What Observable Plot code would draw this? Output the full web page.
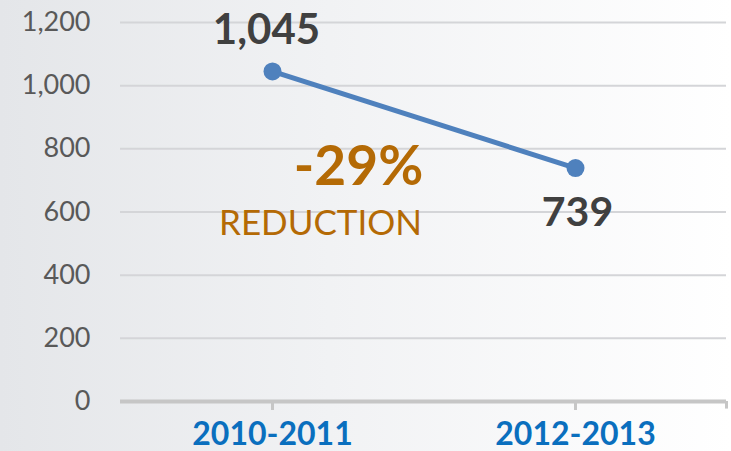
<!DOCTYPE html>
<html>
<head>
<meta charset="utf-8">
<script src="https://cdn.jsdelivr.net/npm/d3@7"></script>
<script src="https://cdn.jsdelivr.net/npm/@observablehq/plot@0.6"></script>
<style>
  html, body { margin: 0; padding: 0; }
  body { width: 731px; height: 451px; overflow: hidden;
         background: linear-gradient(to right, #e4e6e9 0%, #f1f2f4 45%, #ffffff 100%); }
  #chart svg { display: block; background: transparent; }
</style>
</head>
<body>
<div id="chart"></div>
<script>
const periods = ["2010-2011", "2012-2013"];
const incidents = [1045, 739];
const yTicks = [0, 200, 400, 600, 800, 1000, 1200];
const changeLabel = "-29%";
const changeWord = "REDUCTION";

const data = periods.map((p, i) => ({period: p, value: incidents[i]}));
const font = "Lato, 'Open Sans', sans-serif";

const chart = Plot.plot({
  width: 731,
  height: 451,
  marginLeft: 120,
  marginRight: 5,
  marginTop: 22,
  marginBottom: 50,
  style: {fontFamily: font, background: "transparent", overflow: "visible"},
  x: {type: "point", domain: periods, padding: 0.5, label: null},
  y: {domain: [0, 1200], label: null},
  marks: [
    Plot.gridY(yTicks.filter(d => d > 0), {stroke: "#d4d5d8", strokeOpacity: 1, strokeWidth: 2}),
    Plot.ruleY([0], {stroke: "#c6c6c6", strokeWidth: 4}),
    Plot.ruleX([periods[1]], {y1: 0, y2: -24, dx: 151, stroke: "#c6c6c6", strokeWidth: 3}),
    Plot.axisY({ticks: yTicks, tickSize: 0, tickPadding: 30, tickFormat: d3.format(","),
                fontSize: 27, fill: "#595959", label: null}),
    Plot.axisX({tickSize: 9, tickPadding: 12, stroke: "#c6c6c6", strokeWidth: 3,
                fontSize: 32, fontWeight: "bold", fill: "#0a6fbe", label: null}),
    Plot.line(data, {x: "period", y: "value", stroke: "#4f81bd", strokeWidth: 5}),
    Plot.dot(data, {x: "period", y: "value", r: 9, fill: "#4f81bd"}),
    Plot.text([data[0]], {x: "period", y: "value", text: d => d3.format(",")(d.value),
               dy: -41, dx: -6, fontSize: 42, fontWeight: "bold", fill: "#404040"}),
    Plot.text([data[1]], {x: "period", y: "value", text: d => d3.format(",")(d.value),
               dy: 45, dx: 2, fontSize: 41, fontWeight: "bold", fill: "#404040"}),
    Plot.text([data[0]], {x: "period", y: () => 740, text: () => changeLabel,
               dx: 86, fontSize: 55, fontWeight: "bold", fill: "#b46a05"}),
    Plot.text([data[0]], {x: "period", y: () => 562, text: () => changeWord,
               dx: 48, fontSize: 35, fill: "#b46a05"})
  ]
});
document.getElementById("chart").append(chart);
</script>
</body>
</html>
